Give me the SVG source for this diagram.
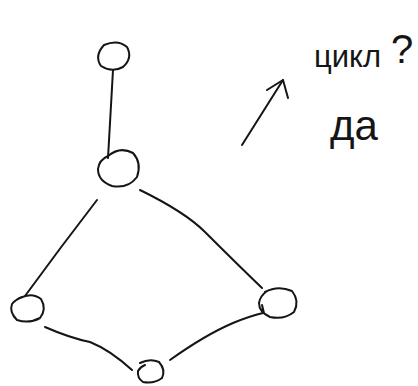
<svg xmlns="http://www.w3.org/2000/svg" width="418" height="386" viewBox="0 0 418 386">
  <style>
    .ink { fill: none; stroke: #151515; stroke-width: 2; stroke-linecap: round; stroke-linejoin: round; }
    .note { font-family: "Liberation Sans", "DejaVu Sans", sans-serif; fill: #151515; }
  </style>
  <rect width="418" height="386" fill="#ffffff"/>

  <!-- connectors -->
  <g id="edges" class="ink">
    <path d="M113 70 L108 158"/>
    <path d="M97 200 Q60 248 25 296"/>
    <path d="M140 190 Q185 212 205 232 Q235 262 262 288"/>
    <path d="M45 327 Q70 338 90 342 Q110 350 132 370"/>
    <path d="M170 360 Q205 335 233 323 Q250 316 263 313"/>
  </g>

  <!-- nodes -->
  <g id="n1" class="ink">
    <path d="M104 45 Q118 39 127 47 Q133 58 123 67 Q112 73 101 66 Q94 56 104 45 Z"/>
  </g>
  <g id="n2" class="ink">
    <path d="M108 156 Q120 146 133 153 Q142 163 137 177 Q128 189 112 186 Q98 181 98 169 Q99 160 108 156 Z"/>
  </g>
  <g id="n3" class="ink">
    <path d="M20 298 Q32 292 41 299 Q47 309 40 318 Q29 324 17 320 Q9 312 12 304 Q15 300 22 297"/>
  </g>
  <g id="n4" class="ink">
    <path d="M265 292 Q278 285 292 291 Q300 301 294 312 Q284 320 270 317 Q259 312 259 303 Q260 296 267 291 M262 305 L264 313"/>
  </g>
  <g id="n5" class="ink">
    <path d="M140 363 Q150 358 159 362 Q166 370 162 378 Q154 384 143 382 Q137 378 138 371 Q140 367 145 365"/>
  </g>

  <!-- annotation -->
  <g id="note" class="ink">
    <path d="M242 145 L283 80"/>
    <path d="M267 90 L283 80 L288 98"/>
  </g>
  <text class="note" x="314" y="67" font-size="31">цикл<tspan font-size="40" dx="10" dy="-4">?</tspan></text>
  <text class="note" x="330" y="140" font-size="42">да</text>
</svg>
